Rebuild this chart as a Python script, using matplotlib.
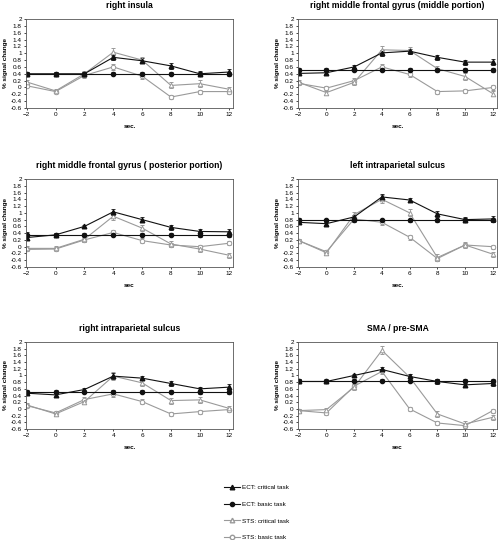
import matplotlib
matplotlib.use('Agg')
import matplotlib.pyplot as plt
from matplotlib.lines import Line2D
from matplotlib.ticker import FuncFormatter

plt.rcParams['font.family'] = ['Liberation Sans', 'DejaVu Sans']

# time points (sec.)
times = [-2, 0, 2, 4, 6, 8, 10, 12]

titles = ['right insula',
          'right middle frontal gyrus (middle portion)',
          'right middle frontal gyrus ( posterior portion)',
          'left intraparietal sulcus',
          'right intraparietal sulcus',
          'SMA / pre-SMA']
xlabels = ['sec.', 'sec.', 'sec', 'sec.', 'sec.', 'sec']

series_labels = ['ECT: critical task', 'ECT: basic task',
                 'STS: critical task', 'STS: basic task']

# % signal change, one row per panel
ect_crit = [
    [0.40, 0.40, 0.40, 0.88, 0.78, 0.63, 0.40, 0.45],
    [0.41, 0.43, 0.60, 1.01, 1.06, 0.88, 0.74, 0.74],
    [0.27, 0.35, 0.60, 1.03, 0.80, 0.57, 0.45, 0.44],
    [0.72, 0.68, 0.88, 1.47, 1.38, 0.97, 0.80, 0.82],
    [0.47, 0.42, 0.58, 0.98, 0.92, 0.76, 0.60, 0.65],
    [0.82, 0.82, 1.00, 1.18, 0.97, 0.82, 0.72, 0.76],
]
ect_basic = [
    [0.40, 0.40, 0.40, 0.40, 0.40, 0.40, 0.40, 0.40],
    [0.52, 0.52, 0.52, 0.52, 0.52, 0.52, 0.52, 0.52],
    [0.36, 0.36, 0.36, 0.36, 0.36, 0.36, 0.36, 0.36],
    [0.78, 0.78, 0.78, 0.78, 0.78, 0.78, 0.78, 0.78],
    [0.52, 0.52, 0.52, 0.52, 0.52, 0.52, 0.52, 0.52],
    [0.84, 0.84, 0.84, 0.84, 0.84, 0.84, 0.84, 0.84],
]
sts_crit = [
    [0.16, -0.10, 0.40, 1.03, 0.80, 0.06, 0.11, -0.05],
    [0.15, -0.15, 0.15, 1.10, 1.08, 0.55, 0.32, -0.18],
    [-0.05, -0.05, 0.22, 0.90, 0.55, 0.08, -0.07, -0.25],
    [0.18, -0.18, 0.95, 1.40, 1.00, -0.32, 0.05, -0.22],
    [0.12, -0.15, 0.22, 0.98, 0.78, 0.25, 0.27, 0.02],
    [-0.05, -0.02, 0.65, 1.75, 0.95, -0.15, -0.45, -0.25],
]
sts_basic = [
    [0.05, -0.12, 0.35, 0.60, 0.33, -0.28, -0.12, -0.12],
    [0.12, -0.02, 0.20, 0.60, 0.38, -0.12, -0.10, 0.00],
    [-0.08, -0.07, 0.20, 0.42, 0.18, 0.05, 0.00, 0.10],
    [0.18, -0.15, 0.82, 0.72, 0.28, -0.35, 0.05, 0.00],
    [0.10, -0.12, 0.28, 0.45, 0.22, -0.15, -0.08, -0.02],
    [-0.05, -0.12, 0.68, 1.12, 0.00, -0.42, -0.50, -0.05],
]

# standard errors (rough reads of the error bars)
ect_crit_err = [0.06, 0.05, 0.05, 0.08, 0.07, 0.08, 0.07, 0.08]
ect_basic_err = [0.06, 0.05, 0.05, 0.05, 0.05, 0.05, 0.06, 0.06]
sts_crit_err = [0.06, 0.06, 0.08, 0.12, 0.10, 0.09, 0.10, 0.07]
sts_basic_err = [0.05, 0.05, 0.07, 0.08, 0.07, 0.06, 0.06, 0.06]

W, H = 500, 540
fig = plt.figure(figsize=(W / 100, H / 100), dpi=100)

# panel boxes in pixels: (left, top, right, bottom)
cols = [(26, 233), (298, 497)]
rows = [(19, 108), (179, 267), (342, 429)]

black = '#111111'
grey = '#9a9a9a'

for i in range(6):
    l, r = cols[i % 2]
    t, b = rows[i // 2]
    ax = fig.add_axes([l / W, 1 - b / H, (r - l) / W, (b - t) / H])

    kw = dict(lw=0.8, capsize=1.6, elinewidth=0.6, capthick=0.6)
    ax.errorbar(times, sts_basic[i], yerr=sts_basic_err, color=grey, marker='o',
                ms=3.2, mfc='white', mec=grey, mew=0.7, **kw)
    ax.errorbar(times, sts_crit[i], yerr=sts_crit_err, color=grey, marker='^',
                ms=3.3, mfc='white', mec=grey, mew=0.7, **kw)
    ax.errorbar(times, ect_basic[i], yerr=ect_basic_err, color=black, marker='o',
                ms=3.0, mfc=black, mec=black, **kw)
    ax.errorbar(times, ect_crit[i], yerr=ect_crit_err, color=black, marker='^',
                ms=3.3, mfc=black, mec=black, **kw)

    ax.set_xlim(-2.05, 12.3)
    ax.set_ylim(-0.6, 2.0)
    ax.set_xticks(times)
    ax.set_yticks([-0.6 + 0.2 * k for k in range(14)])
    ax.yaxis.set_major_formatter(FuncFormatter(lambda v, p: '%g' % round(v, 1)))
    ax.tick_params(labelsize=4.6, length=1.5, width=0.5, pad=1.5)
    for s in ax.spines.values():
        s.set_linewidth(0.6)
        s.set_color('#555555')

    ax.set_title(titles[i], fontsize=6.2, fontweight='bold', pad=8)
    ax.set_xlabel(xlabels[i], fontsize=4.6, fontweight='bold', labelpad=5)
    ax.set_ylabel('% signal change', fontsize=4.6, fontweight='bold', labelpad=2)

handles = [
    Line2D([], [], color=black, marker='^', ms=3.3, mfc=black, lw=0.8),
    Line2D([], [], color=black, marker='o', ms=3.0, mfc=black, lw=0.8),
    Line2D([], [], color=grey, marker='^', ms=3.3, mfc='white', mec=grey, lw=0.8),
    Line2D([], [], color=grey, marker='o', ms=3.2, mfc='white', mec=grey, lw=0.8),
]
fig.legend(handles, series_labels, loc='upper left',
           bbox_to_anchor=(220 / W, 1 - 481 / H), frameon=False,
           fontsize=4.6, labelspacing=1.75, handlelength=2.6, handletextpad=0.3,
           borderaxespad=0.2)

fig.savefig('out.png', dpi=100, facecolor='white')
